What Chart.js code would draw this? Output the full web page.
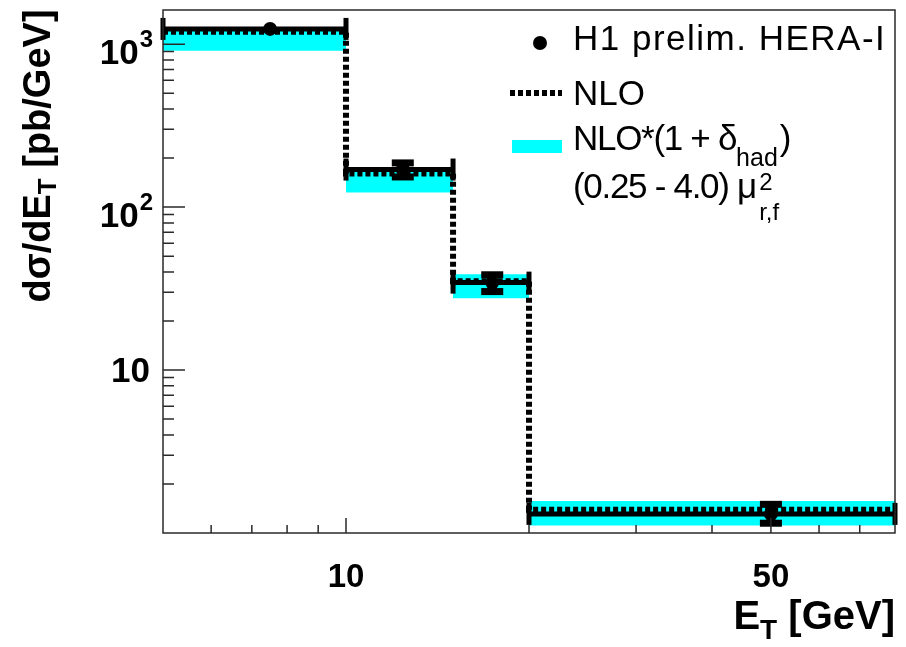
<!DOCTYPE html>
<html><head><meta charset="utf-8">
<script src="https://cdn.jsdelivr.net/npm/chart.js@4.4.0/dist/chart.umd.min.js"></script>
<style>html,body{margin:0;padding:0;background:#fff;}canvas{display:block;}</style>
</head><body>
<canvas id="c" width="906" height="647"></canvas>
<script>
// ---- data ----
const binEdges = [5, 10, 15, 20, 80];
const dataX = [7.5, 12.4, 17.4, 50];
const dataY = [1240, 170, 34.4, 1.31];
const dataErrLow = [30, 18, 4.3, 0.17];
const dataErrHigh = [30, 18, 4.3, 0.2];
const nloY = [1190, 161, 35.1, 1.39];
const bandLow = [911, 123, 27.6, 1.11];
const bandHigh = [1220, 165, 38.7, 1.57];
const xMinorTicks = [6, 7, 8, 9, 20, 30, 40, 60, 70];
const xMajorTicks = [10, 50];
const xTickLabels = ['10', '50'];
const yMinorTicks = [2, 3, 4, 5, 6, 7, 8, 9, 20, 30, 40, 50, 60, 70, 80, 90, 200, 300, 400, 500, 600, 700, 800, 900];
const yMajorTicks = [10, 100, 1000];
const yTickBase = ['10', '10', '10'];
const yTickExp = ['', '2', '3'];
const legendLabels = ['H1 prelim. HERA-I', 'NLO', 'NLO*(1 + δ', 'had', ')', '(0.25 - 4.0)', 'μ', '2', 'r,f'];
const xTitle = ['E', 'T', ' [GeV]'];
const yTitle = ['dσ/dE', 'T', ' [pb/GeV]'];

const FONT = '"Liberation Sans", Arial, Helvetica, sans-serif';
const CYAN = 'rgb(0,255,255)';

function stepPoints(vals) {
  const pts = vals.map((v, i) => ({x: binEdges[i], y: v}));
  pts.push({x: binEdges[binEdges.length - 1], y: vals[vals.length - 1]});
  return pts;
}

function setFont(ctx, size, bold) {
  ctx.font = (bold ? 'bold ' : '') + size + 'px ' + FONT;
}
function runsWidth(ctx, runs) {
  let w = 0;
  for (const r of runs) { setFont(ctx, r.size, r.bold); w += ctx.measureText(r.t).width; }
  return w;
}
function drawRuns(ctx, runs, x, y) {
  ctx.textAlign = 'left'; ctx.textBaseline = 'alphabetic';
  for (const r of runs) {
    setFont(ctx, r.size, r.bold);
    ctx.fillText(r.t, x, y + (r.dy || 0));
    x += ctx.measureText(r.t).width;
  }
  return x;
}

const overlay = {
  id: 'overlay',
  afterDatasetsDraw(chart) {
    const {ctx, scales: {x, y}} = chart;
    ctx.save();
    ctx.fillStyle = '#000'; ctx.strokeStyle = '#000';
    for (let i = 0; i < dataX.length; i++) {
      const x0 = x.getPixelForValue(binEdges[i]);
      const x1 = x.getPixelForValue(binEdges[i + 1]);
      const px = x.getPixelForValue(dataX[i]);
      const py = y.getPixelForValue(dataY[i]);
      ctx.lineWidth = 5;
      ctx.beginPath(); ctx.moveTo(x0, py); ctx.lineTo(x1, py); ctx.stroke();
      ctx.fillRect(x0 - 2.5, py - 11, 5, 22);
      ctx.fillRect(x1 - 2.5, py - 11, 5, 22);
      const yt = y.getPixelForValue(dataY[i] + dataErrHigh[i]);
      const yb = y.getPixelForValue(dataY[i] - dataErrLow[i]);
      if (yb - yt > 14) {
        ctx.lineWidth = 9;
        ctx.beginPath(); ctx.moveTo(px, yt); ctx.lineTo(px, yb); ctx.stroke();
        ctx.fillRect(px - 11, yt - 3, 22, 7);
        ctx.fillRect(px - 11, yb - 4, 22, 7);
      }
    }
    ctx.restore();
  },
  afterDraw(chart) {
    const {ctx, chartArea: a, scales: {x, y}} = chart;
    ctx.save();
    // frame
    ctx.strokeStyle = '#2a2a2a'; ctx.lineWidth = 1.5;
    ctx.strokeRect(a.left, a.top, a.right - a.left, a.bottom - a.top);
    // y ticks (inward)
    ctx.beginPath();
    for (const v of yMajorTicks) { const p = y.getPixelForValue(v); ctx.moveTo(a.left, p); ctx.lineTo(a.left + 22, p); }
    for (const v of yMinorTicks) { const p = y.getPixelForValue(v); ctx.moveTo(a.left, p); ctx.lineTo(a.left + 11, p); }
    // x ticks (inward)
    for (const v of xMajorTicks) { const p = x.getPixelForValue(v); ctx.moveTo(p, a.bottom); ctx.lineTo(p, a.bottom - 15); }
    for (const v of xMinorTicks) { const p = x.getPixelForValue(v); ctx.moveTo(p, a.bottom); ctx.lineTo(p, a.bottom - 8); }
    ctx.stroke();

    ctx.fillStyle = '#000';
    // y tick labels with exponents
    yMajorTicks.forEach((v, i) => {
      const p = y.getPixelForValue(v);
      ctx.textAlign = 'right'; ctx.textBaseline = 'alphabetic';
      if (yTickExp[i]) {
        setFont(ctx, 24, true);
        const we = ctx.measureText(yTickExp[i]).width;
        ctx.fillText(yTickExp[i], 153, p + 3);
        setFont(ctx, 35, true);
        ctx.fillText(yTickBase[i], 153 - we - 1, p + 20);
      } else {
        setFont(ctx, 35, true);
        ctx.fillText(yTickBase[i], 150, p + 12);
      }
    });

    // x title (right aligned)
    const xr = [{t: xTitle[0], size: 40, bold: true}, {t: xTitle[1], size: 28, bold: true, dy: 10}, {t: xTitle[2], size: 40, bold: true}];
    drawRuns(ctx, xr, 895 - runsWidth(ctx, xr), 629);

    // y title (rotated)
    const yr = [{t: yTitle[0], size: 38, bold: true}, {t: yTitle[1], size: 26, bold: true, dy: 6}, {t: yTitle[2], size: 38, bold: true}];
    ctx.save();
    ctx.translate(50, 156); ctx.rotate(-Math.PI / 2);
    drawRuns(ctx, yr, -runsWidth(ctx, yr) / 2, 0);
    ctx.restore();

    // legend
    ctx.beginPath(); ctx.arc(540, 43, 7, 0, Math.PI * 2); ctx.fill();
    ctx.save();
    try { ctx.letterSpacing = '1.5px'; } catch (e) {}
    drawRuns(ctx, [{t: legendLabels[0], size: 35}], 573, 50);
    ctx.restore();

    ctx.save();
    ctx.strokeStyle = '#000'; ctx.lineWidth = 6; ctx.setLineDash([5, 3]);
    ctx.beginPath(); ctx.moveTo(510, 93); ctx.lineTo(562, 93); ctx.stroke();
    ctx.restore();
    drawRuns(ctx, [{t: legendLabels[1], size: 35}], 573, 105);

    ctx.fillStyle = CYAN; ctx.fillRect(512, 140, 50, 13);
    ctx.fillStyle = '#000';
    ctx.save();
    try { ctx.letterSpacing = '-1.3px'; } catch (e) {}
    let xe = drawRuns(ctx, [{t: legendLabels[2], size: 35}], 573, 150);
    ctx.restore();
    xe = drawRuns(ctx, [{t: legendLabels[3], size: 25, dy: 16}], xe, 150);
    drawRuns(ctx, [{t: legendLabels[4], size: 35}], xe + 2, 150);

    ctx.save();
    try { ctx.letterSpacing = '-1.3px'; } catch (e) {}
    drawRuns(ctx, [{t: legendLabels[5], size: 35}], 573, 198);
    ctx.restore();
    const xm = drawRuns(ctx, [{t: legendLabels[6], size: 35}], 737, 198);
    drawRuns(ctx, [{t: legendLabels[7], size: 24}], xm + 2, 190);
    drawRuns(ctx, [{t: legendLabels[8], size: 24}], xm + 2, 220);
    ctx.restore();
  }
};

new Chart(document.getElementById('c'), {
  type: 'line',
  data: {
    datasets: [
      {
        label: 'H1 prelim. HERA-I',
        data: dataX.map((v, i) => ({x: v, y: dataY[i]})),
        showLine: false,
        pointRadius: 7,
        pointBackgroundColor: '#000',
        pointBorderColor: '#000',
        pointBorderWidth: 0
      },
      {
        label: 'NLO',
        data: stepPoints(nloY),
        stepped: 'before',
        borderColor: '#000',
        borderWidth: 6,
        borderDash: [5, 3],
        pointRadius: 0,
        fill: false
      },
      {
        label: 'NLO*(1+δhad) high',
        data: stepPoints(bandHigh),
        stepped: 'before',
        borderWidth: 0,
        borderColor: 'rgba(0,0,0,0)',
        backgroundColor: CYAN,
        pointRadius: 0,
        fill: '+1'
      },
      {
        label: 'NLO*(1+δhad) low',
        data: stepPoints(bandLow),
        stepped: 'before',
        borderWidth: 0,
        borderColor: 'rgba(0,0,0,0)',
        pointRadius: 0,
        fill: false
      }
    ]
  },
  options: {
    responsive: false,
    animation: false,
    events: [],
    layout: {padding: {left: 0, right: 11, top: 10, bottom: 0}},
    plugins: {legend: {display: false}, tooltip: {enabled: false}},
    scales: {
      x: {
        type: 'logarithmic', position: 'bottom', min: binEdges[0], max: binEdges[binEdges.length - 1],
        grid: {display: false}, border: {display: false},
        afterBuildTicks: (s) => { s.ticks = xMajorTicks.map(v => ({value: v, major: true})); },
        ticks: {
          autoSkip: false, maxRotation: 0, padding: 17, color: '#000',
          font: {family: FONT, weight: 'bold', size: 33},
          callback: (v) => { const i = xMajorTicks.indexOf(v); return i >= 0 ? xTickLabels[i] : ''; }
        },
        afterFit: (s) => { s.height = 114; }
      },
      y: {
        type: 'logarithmic', position: 'left', min: 1, max: 1620,
        grid: {display: false}, border: {display: false},
        ticks: {display: false},
        afterFit: (s) => { s.width = 163; }
      }
    }
  },
  plugins: [overlay]
});
</script>
</body></html>
